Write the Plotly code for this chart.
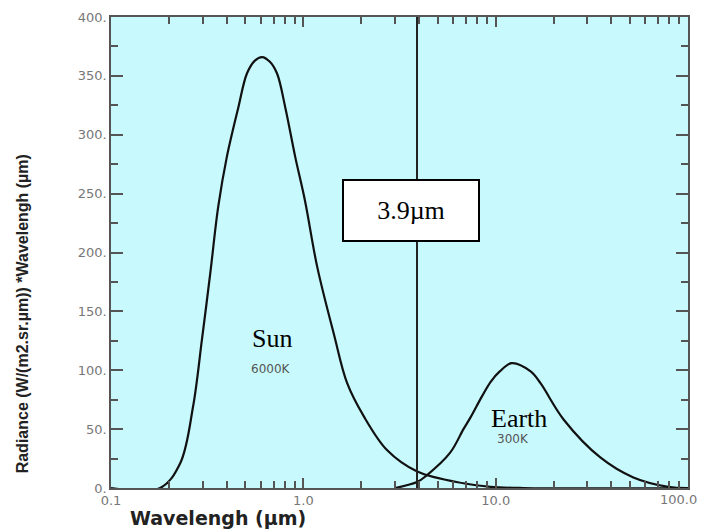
import math
import plotly.graph_objects as go

# ---- data ----
sun_wl = [0.10, 0.18, 0.229, 0.267, 0.297, 0.328, 0.361, 0.40, 0.459, 0.509, 0.56, 0.61,
          0.67, 0.73, 0.806, 0.908, 1.02, 1.18, 1.44, 1.69, 2.06, 2.73, 3.91, 6.8, 9.4, 14.0, 100.0]
sun_val = [0, 0, 21, 69, 126, 182, 239, 281, 323, 352, 363, 366,
           362, 352, 323, 281, 244, 188, 131, 89, 61, 32, 14, 4, 1, 0, 0]

earth_wl = [3.0, 3.9, 4.4, 5.8, 6.8, 7.4, 8.5, 9.4, 10.5, 12.1, 15.2, 17.1, 22.6, 35.0, 52.0, 79.0, 100.0]
earth_val = [0, 5, 11, 30, 50, 60, 78, 90, 99, 106, 99, 89, 58, 26, 9, 1, 0]

marker_wl = 3.9
y_ticks = [0, 50, 100, 150, 200, 250, 300, 350, 400]
y_labels = ["0.", "50.", "100.", "150.", "200.", "250.", "300.", "350.", "400."]
y_minor = [25, 75, 125, 175, 225, 275, 325, 375]
x_ticks = [0.1, 1.0, 10.0, 100.0]
x_labels = ["0.1", "1.0", "10.0", "100.0"]
x_minor = [m * d for d in (0.1, 1.0, 10.0) for m in range(2, 10)]

fig = go.Figure()
fig.add_trace(go.Scatter(x=sun_wl, y=sun_val, mode="lines",
                         line=dict(color="#111", width=2.2, shape="spline", smoothing=1.0),
                         hoverinfo="skip", showlegend=False))
fig.add_trace(go.Scatter(x=earth_wl, y=earth_val, mode="lines",
                         line=dict(color="#111", width=2.2, shape="spline", smoothing=1.0),
                         hoverinfo="skip", showlegend=False))
fig.add_trace(go.Scatter(x=[marker_wl, marker_wl], y=[0, 400], mode="lines",
                         line=dict(color="#222", width=2), hoverinfo="skip", showlegend=False))

tickfont = dict(family="DejaVu Sans", size=13, color="#777")
# the last x label sits at the right edge; it is drawn as an annotation so it stays inside
fig.update_xaxes(type="log", range=[-1, 2], tickvals=x_ticks, ticktext=x_labels[:-1] + [""],
                 ticks="inside", ticklen=10, tickcolor="#555", tickwidth=1.5,
                 minor=dict(tickvals=x_minor, ticks="inside", ticklen=7, tickcolor="#555", tickwidth=1.5),
                 showline=True, linecolor="#555", linewidth=1.5, mirror="ticks",
                 showgrid=False, zeroline=False, tickfont=tickfont,
                 ticklabeloverflow="allow", automargin=False)
fig.update_yaxes(range=[0, 400], tickvals=y_ticks, ticktext=y_labels,
                 ticks="inside", ticklen=12, tickcolor="#555", tickwidth=1.5,
                 minor=dict(tickvals=y_minor, ticks="inside", ticklen=7, tickcolor="#555", tickwidth=1.5),
                 showline=True, linecolor="#555", linewidth=1.5, mirror="ticks",
                 showgrid=False, zeroline=False, tickfont=tickfont,
                 ticklabeloverflow="allow", automargin=False)

serif = "Liberation Serif"
ann = [
    dict(x=math.log10(3.65), y=235.6, xref="x", yref="y", text="3.9\u00b5m", showarrow=False,
         font=dict(family=serif, size=26, color="#000"), bgcolor="white",
         bordercolor="#000", borderwidth=2, width=132, height=57),
    dict(x=-0.1615, y=127, xref="x", yref="y", text="Sun", showarrow=False,
         font=dict(family=serif, size=26, color="#000")),
    dict(x=-0.167, y=101, xref="x", yref="y", text="6000K", showarrow=False,
         font=dict(family="DejaVu Sans", size=12, color="#555")),
    dict(x=1.12, y=59, xref="x", yref="y", text="Earth", showarrow=False,
         font=dict(family=serif, size=26, color="#000")),
    dict(x=1.089, y=42, xref="x", yref="y", text="300K", showarrow=False,
         font=dict(family="DejaVu Sans", size=12, color="#555")),
    dict(x=-0.154, y=0.369, xref="paper", yref="paper",
         text="<b>Radiance (W/(m2.sr.\u00b5m)) *Wavelengh (\u00b5m)</b>",
         textangle=-90, showarrow=False, xanchor="center", yanchor="middle",
         font=dict(family="Liberation Sans", size=16, color="#222")),
    dict(x=0.185, y=-0.064, xref="paper", yref="paper", text="<b>Wavelengh (\u00b5m)</b>",
         showarrow=False, xanchor="center", yanchor="middle",
         font=dict(family="DejaVu Sans", size=19, color="#222")),
    dict(x=1.019, y=-0.025, xref="paper", yref="paper", text=x_labels[-1],
         showarrow=False, xanchor="right", yanchor="middle", font=tickfont),
]

fig.update_layout(width=701, height=530, margin=dict(l=111, r=13, t=17, b=42),
                  paper_bgcolor="white", plot_bgcolor="#c8f9fc",
                  annotations=ann, showlegend=False)

fig.write_html("out.html", config={"displayModeBar": False},
               post_script="document.body.style.margin='0';")
